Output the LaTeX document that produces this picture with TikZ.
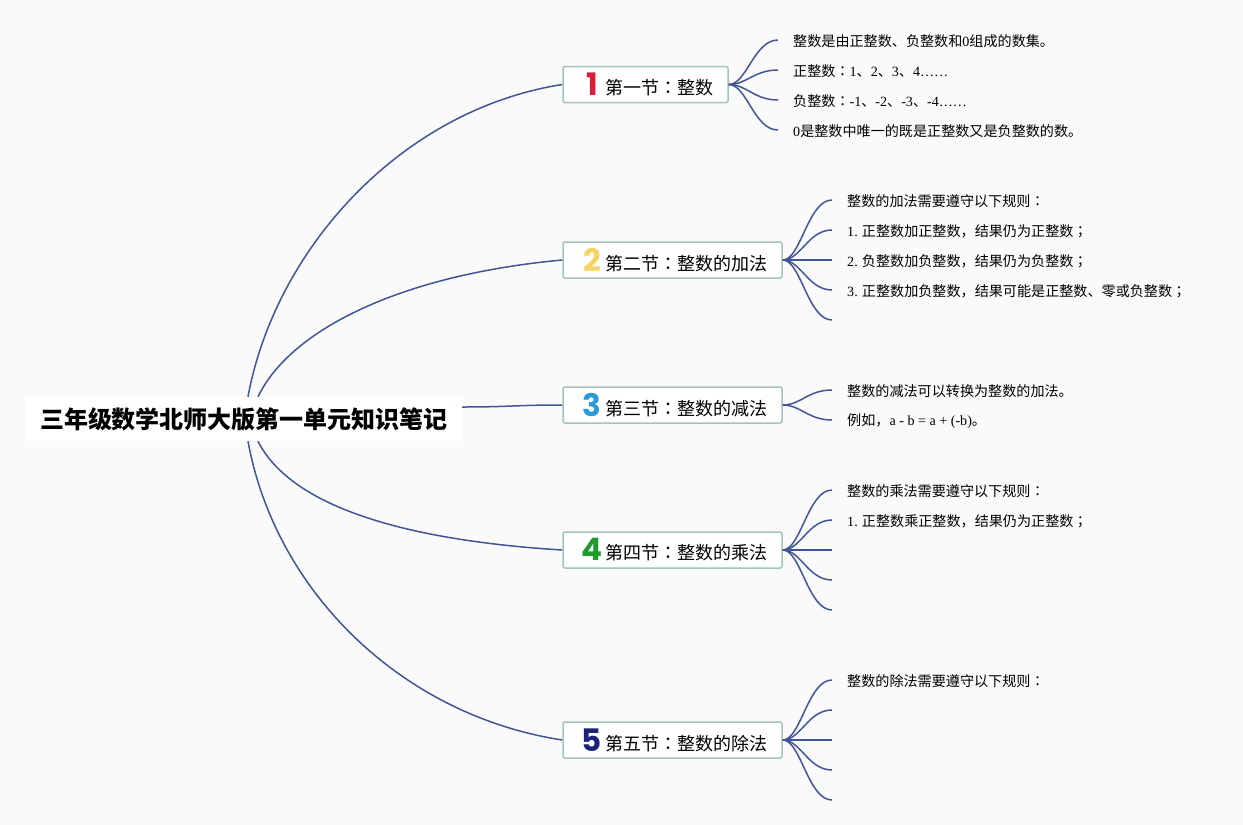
\documentclass[tikz,border=0pt]{standalone}
\usepackage{fontspec}
\setmainfont{Liberation Serif}
\newfontfamily\cjk{Noto Sans CJK SC}
\newfontfamily\cjkjp{Noto Sans CJK JP}
\newfontfamily\numfont{Poppins}
\newcommand\latn[1]{{\rmfamily #1}}
\newcommand\colo{{\cjkjp ：}}
\newcommand\semi{{\cjkjp ；}}
\definecolor{bgc}{HTML}{FAFAFA}
\definecolor{edgec}{RGB}{64,86,150}
\definecolor{boxc}{HTML}{A3C4B8}
\definecolor{n1}{HTML}{D81E3A}
\definecolor{n2}{HTML}{F4D35E}
\definecolor{n3}{HTML}{2A9AD9}
\definecolor{n4}{HTML}{1E9A2E}
\definecolor{n5}{HTML}{1B2379}
\tikzset{
  edge/.style={draw=edgec, line width=1.5pt},
  secbox/.style={draw=boxc, line width=1.5pt, fill=white, rounded corners=2pt, inner sep=0pt, minimum height=36pt, font=\cjk\fontsize{18}{20}\selectfont},
  leaf/.style={anchor=west, inner sep=0pt, yshift=-1.5pt, font=\cjk\fontsize{14.1}{16}\selectfont},
  rootbox/.style={fill=white, inner sep=0pt, minimum width=436pt, minimum height=44pt, font=\cjk\bfseries\fontsize{24}{28}\selectfont}
}
\newcommand\secnum[2]{\hskip18pt\makebox[22pt]{\raisebox{-1pt}{\numfont\bfseries\fontsize{31}{31}\selectfont\color{#1}#2}}\hskip2pt}
\begin{document}
\begin{tikzpicture}[x=1pt,y=-1pt]
\fill[bgc] (0,0) rectangle (1243,825);
\useasboundingbox (0,0) rectangle (1243,825);

\node[rootbox] (root) at (244,419) {三年级数学北师大版第一单元知识笔记};

\node[secbox] (s1) at (645.5,84.5) {\hbox to 165pt{\secnum{n1}{1}第一节\colo 整数\hfil}};
\node[secbox] (s2) at (672.5,260) {\hbox to 219pt{\secnum{n2}{2}第二节\colo 整数的加法\hfil}};
\node[secbox] (s3) at (672.5,405) {\hbox to 219pt{\secnum{n3}{3}第三节\colo 整数的减法\hfil}};
\node[secbox] (s4) at (672.5,550) {\hbox to 219pt{\secnum{n4}{4}第四节\colo 整数的乘法\hfil}};
\node[secbox] (s5) at (672.5,740) {\hbox to 219pt{\secnum{n5}{5}第五节\colo 整数的除法\hfil}};

% root edges
\draw[edge] ([xshift=4pt]root.north) .. controls (275,250) and (400,110) .. (s1.west);
\draw[edge] ([xshift=14pt]root.north) .. controls (290,330) and (400,275) .. (s2.west);
\draw[edge] ([yshift=12pt]root.east) .. controls (510,407) and (515,405) .. (s3.west);
\draw[edge] ([xshift=14pt]root.south) .. controls (290,505) and (400,540) .. (s4.west);
\draw[edge] ([xshift=4pt]root.south) .. controls (275,590) and (400,715) .. (s5.west);

% section 1 leaves
\coordinate (a1) at (778,40);
\coordinate (a2) at (778,70);
\coordinate (a3) at (778,100);
\coordinate (a4) at (778,130);
\foreach \c in {a1,a2,a3,a4}
  \draw[edge] (s1.east) .. controls +(18,0) and +(-24,0) .. (\c);
\node[leaf] (t11) at ([xshift=15pt]a1) {整数是由正整数、负整数和\latn{0}组成的数集。};
\node[leaf] (t12) at ([xshift=15pt]a2) {正整数\colo\latn{1}、\latn{2}、\latn{3}、\latn{4……}};
\node[leaf] (t13) at ([xshift=15pt]a3) {负整数\colo\latn{-1}、\latn{-2}、\latn{-3}、\latn{-4……}};
\node[leaf] (t14) at ([xshift=15pt]a4) {\latn{0}是整数中唯一的既是正整数又是负整数的数。};

% section 2 leaves
\coordinate (b1) at (832,200);
\coordinate (b2) at (832,230);
\coordinate (b3) at (832,260);
\coordinate (b4) at (832,290);
\coordinate (b5) at (832,320);
\foreach \c in {b1,b2,b3,b4,b5}
  \draw[edge] (s2.east) .. controls +(18,0) and +(-24,0) .. (\c);
\node[leaf] (t21) at ([xshift=15pt]b1) {整数的加法需要遵守以下规则\colo};
\node[leaf] (t22) at ([xshift=15pt]b2) {\latn{1.} 正整数加正整数，结果仍为正整数\semi};
\node[leaf] (t23) at ([xshift=15pt]b3) {\latn{2.} 负整数加负整数，结果仍为负整数\semi};
\node[leaf] (t24) at ([xshift=15pt]b4) {\latn{3.} 正整数加负整数，结果可能是正整数、零或负整数\semi};

% section 3 leaves
\coordinate (c1) at (832,390);
\coordinate (c2) at (832,420);
\foreach \c in {c1,c2}
  \draw[edge] (s3.east) .. controls +(18,0) and +(-24,0) .. (\c);
\node[leaf] (t31) at ([xshift=15pt]c1) {整数的减法可以转换为整数的加法。};
\node[leaf] (t32) at ([xshift=15pt]c2) {例如，\latn{a - b = a + (-b)}。};

% section 4 leaves
\coordinate (d1) at (832,490);
\coordinate (d2) at (832,520);
\coordinate (d3) at (832,550);
\coordinate (d4) at (832,580);
\coordinate (d5) at (832,610);
\foreach \c in {d1,d2,d3,d4,d5}
  \draw[edge] (s4.east) .. controls +(18,0) and +(-24,0) .. (\c);
\node[leaf] (t41) at ([xshift=15pt]d1) {整数的乘法需要遵守以下规则\colo};
\node[leaf] (t42) at ([xshift=15pt]d2) {\latn{1.} 正整数乘正整数，结果仍为正整数\semi};

% section 5 leaves
\coordinate (e1) at (832,680);
\coordinate (e2) at (832,710);
\coordinate (e3) at (832,740);
\coordinate (e4) at (832,770);
\coordinate (e5) at (832,800);
\foreach \c in {e1,e2,e3,e4,e5}
  \draw[edge] (s5.east) .. controls +(18,0) and +(-24,0) .. (\c);
\node[leaf] (t51) at ([xshift=15pt]e1) {整数的除法需要遵守以下规则\colo};
\end{tikzpicture}
\end{document}
